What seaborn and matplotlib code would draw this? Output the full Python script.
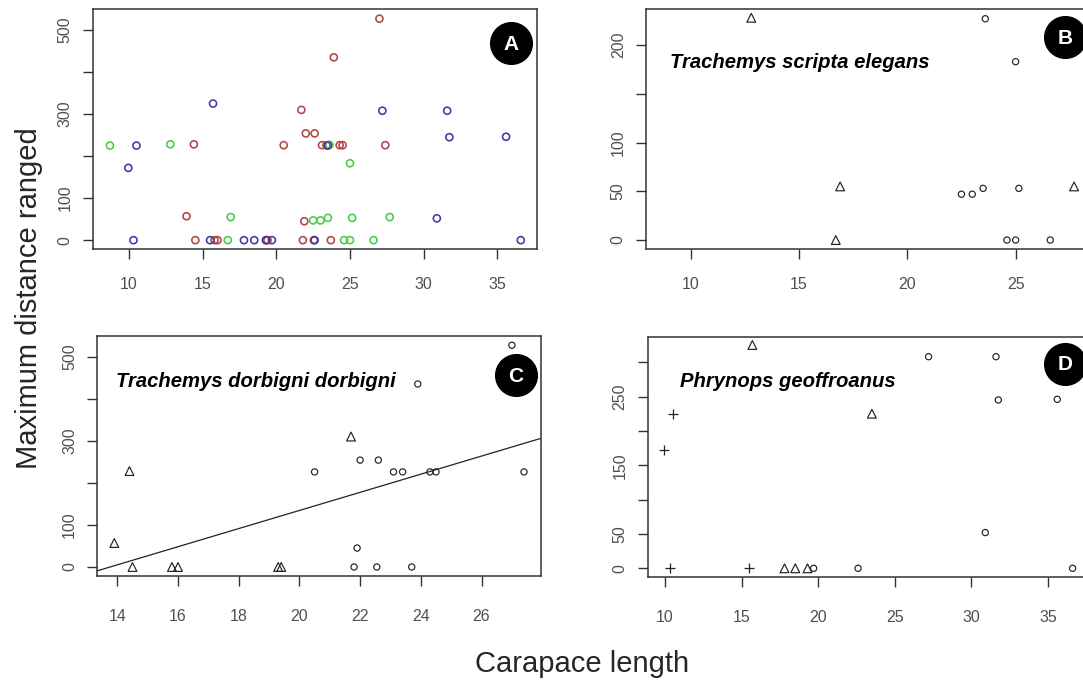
import numpy as np
import pandas as pd
import matplotlib
matplotlib.use("Agg")
import matplotlib.pyplot as plt
import seaborn as sns
from matplotlib.lines import Line2D

# ------------------------------------------------------------------ data
# Trachemys dorbigni dorbigni  (red in A, panel C)
tdd_x = [14.4, 13.9, 14.5, 15.8, 16.0, 19.3, 19.4, 21.7,
         27.0, 23.9, 22.0, 22.6, 20.5, 23.1, 23.4, 24.3, 24.5, 27.4,
         21.9, 21.8, 22.55, 23.7]
tdd_y = [228, 57, 0, 0, 0, 0, 0, 310,
         527, 435, 254, 254, 226, 226, 226, 226, 226, 226,
         45, 0, 0, 0]
tdd_shape = ["tri"] * 8 + ["circ"] * 14

# Trachemys scripta elegans  (green in A, panel B); "ovr" = only in overview A
tse_x = [8.7, 12.8, 16.9, 16.7, 27.7,
         23.6, 25.0, 22.5, 23.0, 23.5, 25.15, 24.6, 25.0, 26.6]
tse_y = [225, 228, 55, 0, 55,
         227, 183, 47, 47, 53, 53, 0, 0, 0]
tse_shape = ["ovr"] + ["tri"] * 4 + ["circ"] * 9

# Phrynops geoffroanus  (blue in A, panel D)
pg_x = [10.5, 9.95, 10.3, 15.5,
        15.7, 17.8, 18.5, 19.3, 23.5,
        19.7, 22.6, 27.2, 31.6, 31.75, 35.6, 30.9, 36.6]
pg_y = [225, 172, 0, 0,
        325, 0, 0, 0, 225,
        0, 0, 308, 308, 245, 246, 52, 0]
pg_shape = ["plus"] * 4 + ["tri"] * 5 + ["circ"] * 8

species_names = ["Trachemys scripta elegans", "Trachemys dorbigni dorbigni",
                 "Phrynops geoffroanus"]
panel_letters = ["A", "B", "C", "D"]
x_label = "Carapace length"
y_label = "Maximum distance ranged"

# ------------------------------------------------------------------ style
sns.set_style("ticks")
plt.rcParams["font.family"] = ["Liberation Sans", "DejaVu Sans"]

W, H = 1083, 684
fig = plt.figure(figsize=(W / 100, H / 100), dpi=100)

def px_box(left, top, right, bottom):
    return [left / W, 1 - bottom / H, (right - left) / W, (bottom - top) / H]

def style_axes(ax, yticks, ylabels, xticks, xpad):
    for s in ax.spines.values():
        s.set_color("#333333")
        s.set_linewidth(1.1)
    ax.set_xticks(xticks)
    ax.set_yticks(yticks, ylabels)
    ax.tick_params(direction="out", length=7.5, width=1, color="#333333",
                   labelcolor="#505050", labelsize=11.5)
    ax.tick_params(axis="x", pad=xpad)
    ax.tick_params(axis="y", pad=7)
    for lab in ax.get_yticklabels():
        lab.set_rotation(90)
        lab.set_va("center")
    ax.set_xlabel("")
    ax.set_ylabel("")

MK = {"circ": "o", "tri": "^", "plus": "+"}
SZ = {"circ": 20, "tri": 40, "plus": 62}
INK = "#222222"

def draw_panel(ax, xs, ys, shapes):
    df = pd.DataFrame({"x": xs, "y": ys, "shape": shapes})
    for key in ["circ", "tri", "plus"]:
        sub = df[df["shape"] == key]
        if sub.empty:
            continue
        if key == "plus":
            sns.scatterplot(data=sub, x="x", y="y", ax=ax, marker="+", s=SZ[key],
                            color=INK, linewidth=0.9, legend=False)
        else:
            sns.scatterplot(data=sub, x="x", y="y", ax=ax, marker=MK[key], s=SZ[key],
                            color=INK, facecolors="none", edgecolor=INK,
                            linewidth=0.85, legend=False)

# ---------------- Panel A
axA = fig.add_axes(px_box(93, 9, 537, 249))
colors = {"tdd": "#B24545", "tse": "#45CC45", "pg": "#3B3BA5"}
for key, xs, ys in [("tdd", tdd_x, tdd_y), ("tse", tse_x, tse_y), ("pg", pg_x, pg_y)]:
    sns.scatterplot(x=xs, y=ys, ax=axA, marker="o", s=26, color=colors[key],
                    facecolors="none", edgecolor=colors[key], linewidth=1.15,
                    legend=False)
axA.set_xlim(7.55, 37.7)
axA.set_ylim(-21, 550)
style_axes(axA, [0, 100, 200, 300, 400, 500], ["0", "100", "", "300", "", "500"],
           [10, 15, 20, 25, 30, 35], 12.5)

# ---------------- Panel B (scripta elegans)
axB = fig.add_axes(px_box(646, 9, 1091, 249))
b_mask = [s != "ovr" for s in tse_shape]
draw_panel(axB, [x for x, m in zip(tse_x, b_mask) if m],
           [y for y, m in zip(tse_y, b_mask) if m],
           [s for s in tse_shape if s != "ovr"])
axB.set_xlim(7.94, 28.48)
axB.set_ylim(-9.2, 237)
style_axes(axB, [0, 50, 100, 150, 200], ["0", "50", "100", "", "200"],
           [10, 15, 20, 25], 12.5)

# ---------------- Panel C (dorbigni)
axC = fig.add_axes(px_box(97.3, 336, 540.7, 576))
draw_panel(axC, tdd_x, tdd_y, tdd_shape)
axC.set_xlim(13.34, 27.95)
axC.set_ylim(-21.4, 549)
sns.regplot(x=np.array(tdd_x), y=np.array(tdd_y), ax=axC, scatter=False, ci=None,
            truncate=False, color="#222222", line_kws={"linewidth": 0.9})
axC.set_xlim(13.34, 27.95)
axC.set_ylim(-21.4, 549)
style_axes(axC, [0, 100, 200, 300, 400, 500], ["0", "100", "", "300", "", "500"],
           [14, 16, 18, 20, 22, 24, 26], 16)

# ---------------- Panel D (Phrynops)
axD = fig.add_axes(px_box(647.7, 337.3, 1091, 577.3))
draw_panel(axD, pg_x, pg_y, pg_shape)
axD.set_xlim(8.87, 37.8)
axD.set_ylim(-13.1, 336.2)
style_axes(axD, [0, 50, 100, 150, 200, 250, 300],
           ["0", "50", "", "150", "", "250", ""],
           [10, 15, 20, 25, 30, 35], 16)

# ---------------- species annotations
fig.text(670 / W, 1 - 68 / H, species_names[0], fontsize=14.6, fontweight="bold",
         style="italic", va="baseline", ha="left", color="black")
fig.text(116 / W, 1 - 386.7 / H, species_names[1], fontsize=14.6, fontweight="bold",
         style="italic", va="baseline", ha="left", color="black")
fig.text(680 / W, 1 - 386.7 / H, species_names[2], fontsize=14.6, fontweight="bold",
         style="italic", va="baseline", ha="left", color="black")

# ---------------- panel letters in black discs
for letter, (cx, cy) in zip(panel_letters, [(511, 43.3), (1065, 37), (516, 375), (1065, 364)]):
    fig.add_artist(Line2D([cx / W], [1 - cy / H], marker="o", markersize=30,
                          color="black", transform=fig.transFigure))
    fig.text(cx / W, 1 - (cy + 1) / H, letter, fontsize=15, fontweight="bold",
             color="white", ha="center", va="center")

# ---------------- shared axis titles
fig.text(582.5 / W, 1 - 664 / H, x_label, fontsize=21, ha="center", va="center")
fig.text(29 / W, 1 - 298.5 / H, y_label, fontsize=21, rotation=90,
         ha="center", va="center")

fig.savefig("out.png", dpi=100)
